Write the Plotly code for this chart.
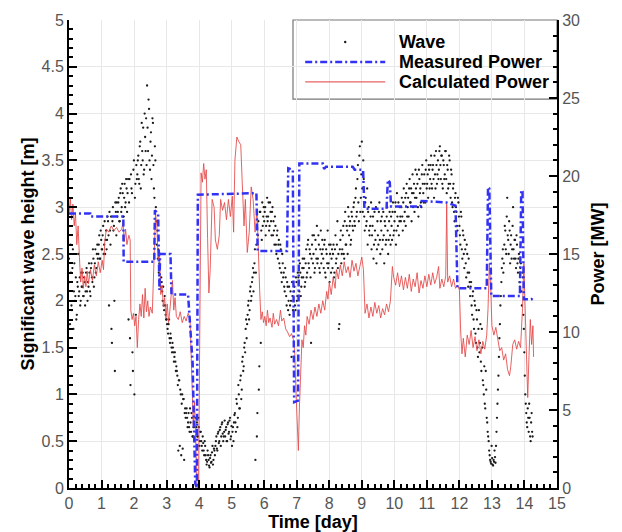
import plotly.graph_objects as go

# ---------------- data ----------------
# Significant wave height [m]; two interleaved sample sets, each every wave_dt days
wave_dt = 0.03
wave_h_a = [
    2.45, 1.75, 2.30, 1.90, 2.55, 2.10, 2.00, 2.25, 1.85, 2.15,
    2.05, 2.25, 2.00, 2.15, 2.30, 2.05, 2.20, 2.10, 2.35, 2.00,
    2.15, 2.30, 2.05, 2.40, 2.20, 2.45, 2.25, 2.55, 2.35, 2.60,
    2.50, 2.70, 2.45, 2.65, 2.55, 2.80, 2.60, 2.50, 2.75, 2.65,
    2.85, 1.95, 2.75, 2.90, 1.55, 3.00, 2.80, 1.25, 2.95, 3.05,
    2.95, 3.10, 2.85, 3.20, 3.00, 3.15, 2.90, 3.25, 3.05, 3.20,
    3.15, 1.80, 3.30, 1.10, 3.20, 1.45, 3.40, 1.00, 3.25, 3.45,
    3.35, 3.55, 3.25, 3.70, 3.45, 3.60, 3.85, 3.40, 3.75, 3.95,
    4.30, 3.60, 4.05, 3.40, 3.80, 3.55, 3.90, 3.20, 3.65, 3.00,
    2.60, 2.45, 2.30, 2.35, 2.15, 2.20, 2.00, 1.95, 2.05, 1.85,
    1.80, 1.70, 1.75, 1.60, 1.65, 1.50, 1.55, 1.45, 1.40, 1.35,
    1.30, 1.20, 0.40, 1.15, 1.05, 0.35, 1.00, 0.95, 0.30, 0.85,
    0.80, 0.75, 0.70, 0.65, 0.85, 0.60, 0.75, 0.55, 0.70, 0.65,
    0.60, 0.70, 0.55, 0.65, 0.50, 0.60, 0.45, 0.55, 0.40, 0.50,
    0.35, 0.25, 0.40, 0.30, 0.22, 0.35, 0.28, 0.45, 0.30, 0.40,
    0.45, 0.55, 0.40, 0.60, 0.50, 0.65, 0.55, 0.70, 0.50, 0.60,
    0.55, 0.65, 0.50, 0.70, 0.60, 0.75, 0.55, 0.45, 0.65, 0.70,
    0.80, 0.60, 0.90, 0.75, 1.00, 0.85, 1.20, 1.05, 1.40, 1.30,
    1.55, 1.70, 1.60, 1.85, 2.00, 1.90, 2.15, 2.05, 2.25, 2.10,
    2.40, 0.30, 2.60, 0.80, 2.85, 1.30, 2.95, 2.75, 3.05, 2.90,
    2.85, 3.00, 2.80, 3.10, 2.90, 2.75, 3.05, 2.85, 2.95, 2.70,
    2.75, 2.90, 2.60, 2.70, 2.45, 2.65, 2.35, 2.55, 2.20, 2.40,
    2.30, 2.10, 2.25, 1.95, 2.15, 2.00, 1.85, 2.10, 1.40, 2.05,
    2.00, 2.15, 1.90, 2.20, 2.05, 2.25, 2.10, 2.30, 2.15, 2.35,
    2.25, 2.45, 2.20, 2.55, 2.30, 2.65, 2.35, 2.50, 1.55, 2.60,
    2.40, 2.70, 2.35, 2.55, 2.80, 2.45, 2.60, 2.30, 2.75, 2.50,
    2.55, 2.35, 2.65, 2.25, 2.50, 2.75, 2.40, 2.20, 2.60, 2.45,
    2.35, 2.60, 2.30, 2.70, 2.45, 2.85, 2.50, 1.75, 2.65, 2.40,
    2.55, 2.80, 2.45, 2.95, 2.60, 2.75, 3.00, 2.70, 2.85, 2.65,
    2.90, 2.75, 3.05, 2.80, 3.20, 2.95, 3.45, 2.85, 3.65, 3.10,
    3.70, 2.95, 3.30, 2.75, 3.10, 2.85, 2.60, 3.00, 2.70, 2.90,
    2.55, 2.80, 2.45, 2.95, 2.65, 2.40, 2.85, 2.60, 3.05, 2.50,
    2.75, 2.55, 2.95, 2.40, 2.80, 2.65, 3.00, 2.50, 2.85, 2.70,
    2.90, 2.65, 3.05, 2.75, 2.95, 2.60, 3.15, 2.80, 2.70, 3.00,
    2.85, 3.10, 2.75, 3.20, 2.95, 2.80, 3.25, 3.00, 2.90, 3.30,
    3.05, 2.85, 3.35, 3.15, 2.95, 3.40, 3.10, 3.25, 2.90, 3.30,
    3.20, 3.00, 3.45, 3.15, 3.35, 3.05, 3.50, 3.25, 3.10, 3.40,
    3.30, 3.55, 3.20, 3.45, 3.10, 3.35, 3.60, 3.25, 3.50, 3.40,
    3.65, 3.30, 3.55, 3.20, 3.45, 3.35, 3.60, 3.15, 3.40, 3.25,
    3.50, 3.10, 3.35, 3.00, 3.25, 2.85, 3.15, 2.95, 2.75, 3.05,
    2.80, 2.60, 2.90, 2.45, 2.70, 2.35, 2.55, 2.25, 2.50, 2.15,
    2.30, 2.05, 2.20, 1.85, 2.10, 1.70, 1.95, 1.55, 1.80, 1.40,
    1.90, 1.55, 1.35, 1.70, 1.15, 1.00, 0.90, 1.25, 0.75, 0.60,
    0.50, 0.35, 0.28, 0.45, 0.25, 0.30, 0.40, 0.27, 0.60, 0.90,
    1.20, 1.60, 1.95, 2.20, 2.45, 2.30, 2.60, 2.75, 2.50, 3.10,
    2.65, 2.85, 2.40, 2.70, 2.55, 3.00, 2.45, 2.65, 2.35, 2.60,
    2.30, 2.50, 2.15, 2.40, 1.95, 2.25, 1.70, 1.20, 0.90, 0.70,
    0.85, 0.60, 0.75, 0.50, 0.80, 0.55,
]
wave_h_b = [
    2.20, 2.60, 1.95, 2.35, 1.70, 2.40, 2.05, 1.80, 2.20, 2.50,
    2.10, 1.95, 2.30, 2.15, 2.05, 2.25, 1.95, 2.30, 2.10, 2.20,
    2.40, 2.10, 2.35, 2.25, 2.55, 2.15, 2.40, 2.30, 2.50, 2.45,
    2.60, 2.45, 2.75, 2.55, 2.70, 2.50, 2.85, 2.65, 2.55, 2.90,
    2.70, 2.95, 2.60, 1.70, 2.85, 2.75, 2.00, 3.05, 2.70, 2.90,
    3.05, 2.85, 3.15, 2.95, 3.25, 2.90, 3.10, 3.00, 3.30, 2.95,
    3.30, 3.05, 1.60, 3.35, 3.15, 1.25, 3.50, 3.10, 1.85, 3.30,
    3.50, 3.30, 3.65, 3.20, 3.90, 3.50, 3.35, 4.00, 3.60, 3.45,
    3.85, 4.15, 3.50, 3.70, 3.30, 3.95, 3.45, 3.10, 3.50, 2.85,
    2.75, 2.55, 2.40, 2.50, 2.25, 2.10, 2.15, 1.90, 1.95, 1.80,
    1.75, 1.65, 1.80, 1.55, 1.60, 1.45, 1.50, 1.35, 1.45, 1.25,
    1.25, 1.10, 1.15, 0.45, 1.00, 0.90, 0.42, 0.95, 0.80, 0.75,
    0.85, 0.65, 0.80, 0.60, 0.70, 0.80, 0.55, 0.65, 0.50, 0.75,
    0.65, 0.55, 0.75, 0.45, 0.60, 0.50, 0.40, 0.48, 0.35, 0.45,
    0.30, 0.28, 0.35, 0.24, 0.32, 0.27, 0.38, 0.25, 0.42, 0.35,
    0.50, 0.42, 0.58, 0.48, 0.62, 0.45, 0.68, 0.58, 0.55, 0.72,
    0.62, 0.50, 0.68, 0.58, 0.72, 0.52, 0.66, 0.60, 0.50, 0.78,
    0.70, 0.95, 0.65, 1.10, 0.85, 1.15, 0.95, 1.35, 1.25, 1.50,
    1.45, 1.80, 1.75, 1.95, 1.80, 2.10, 2.00, 2.20, 2.35, 2.30,
    2.55, 2.30, 0.55, 2.70, 1.05, 2.95, 1.55, 2.65, 2.80, 3.00,
    2.95, 2.70, 2.90, 2.85, 3.05, 2.80, 2.95, 2.70, 3.00, 2.85,
    2.60, 2.80, 2.50, 2.75, 2.60, 2.40, 2.60, 2.30, 2.50, 2.25,
    2.15, 2.35, 2.05, 2.20, 1.90, 2.15, 1.95, 2.00, 2.20, 1.90,
    2.10, 1.95, 2.25, 2.00, 2.30, 2.20, 2.40, 2.05, 2.25, 2.45,
    2.35, 2.15, 2.40, 2.25, 2.60, 2.40, 2.55, 2.25, 2.45, 2.70,
    2.50, 2.30, 2.65, 2.45, 2.40, 2.70, 2.35, 2.55, 2.40, 2.65,
    2.45, 2.60, 2.30, 2.55, 2.40, 2.35, 2.60, 2.50, 2.30, 2.55,
    2.50, 2.25, 2.55, 2.40, 2.60, 2.35, 1.70, 2.55, 2.75, 2.50,
    2.70, 2.50, 2.85, 2.60, 2.80, 2.50, 2.90, 2.80, 2.60, 2.95,
    2.80, 3.00, 2.85, 3.10, 2.90, 3.30, 3.05, 3.55, 2.95, 3.35,
    3.20, 3.50, 2.90, 3.05, 2.80, 3.20, 2.95, 2.75, 2.80, 3.05,
    2.70, 2.90, 2.60, 2.75, 3.00, 2.55, 2.70, 2.95, 2.65, 2.85,
    2.90, 2.65, 2.70, 2.85, 2.60, 2.90, 2.75, 2.65, 2.95, 2.60,
    2.80, 2.95, 2.70, 2.85, 3.05, 2.75, 2.90, 3.05, 2.85, 2.90,
    3.00, 2.90, 3.05, 2.85, 3.10, 3.15, 2.90, 3.10, 3.20, 3.05,
    3.20, 3.15, 3.00, 3.25, 3.10, 3.20, 3.35, 3.00, 3.40, 3.15,
    3.05, 3.35, 3.25, 3.05, 3.25, 3.40, 3.20, 3.35, 3.45, 3.20,
    3.45, 3.25, 3.40, 3.30, 3.55, 3.20, 3.45, 3.35, 3.30, 3.60,
    3.45, 3.55, 3.25, 3.50, 3.30, 3.60, 3.30, 3.45, 3.20, 3.55,
    3.25, 3.40, 3.05, 3.20, 2.95, 3.10, 3.00, 2.80, 3.10, 2.90,
    2.70, 2.95, 2.55, 2.75, 2.50, 2.65, 2.40, 2.60, 2.30, 2.45,
    2.20, 2.15, 1.95, 2.05, 1.80, 2.00, 1.65, 1.90, 1.50, 1.70,
    1.45, 1.75, 1.25, 1.50, 1.10, 1.30, 0.85, 1.05, 0.70, 0.55,
    0.40, 0.30, 0.26, 0.32, 0.24, 0.28, 0.33, 0.45, 0.75, 1.05,
    1.40, 1.75, 2.05, 2.35, 2.55, 2.40, 2.80, 2.55, 2.90, 2.70,
    2.50, 2.75, 2.60, 2.45, 2.80, 2.55, 2.65, 2.45, 2.70, 2.40,
    2.45, 2.20, 2.35, 2.10, 2.30, 1.85, 1.45, 1.00, 0.80, 0.65,
    0.75, 0.90, 0.55, 0.70, 0.60,
]
wave_t = ([round(i * wave_dt, 3) for i in range(len(wave_h_a))]
          + [round(wave_dt / 2 + i * wave_dt, 3) for i in range(len(wave_h_b))])
wave_h = wave_h_a + wave_h_b

# Measured power [MW]
meas_t = [0.00, 0.65, 0.66, 1.67, 1.68, 2.62, 2.64, 2.74, 2.78, 2.80,
          3.12, 3.15, 3.66, 3.80, 3.88, 3.93, 3.96, 5.76, 5.80, 6.70,
          6.74, 6.88, 6.92, 7.04, 7.08, 7.80, 7.84, 7.90, 8.72, 8.78,
          9.04, 9.08, 9.76, 9.80, 9.86, 9.90, 10.80, 10.84, 11.60, 11.88,
          11.94, 12.84, 12.88, 12.92, 12.98, 13.86, 13.90, 13.94, 13.98, 14.22,
          14.27]
meas_p = [17.6, 17.6, 17.4, 17.4, 14.5, 14.5, 17.8, 17.6, 12.7, 15.0,
          15.0, 12.4, 12.4, 8.0, 0.3, 0.0, 18.8, 18.9, 15.2, 15.2,
          20.5, 20.4, 5.5, 5.6, 20.8, 20.8, 20.45, 20.6, 20.6, 20.4,
          20.4, 17.9, 17.9, 19.75, 19.6, 18.05, 18.05, 18.4, 18.3, 18.1,
          12.8, 12.8, 19.3, 19.2, 12.3, 12.3, 19.1, 19.0, 12.1, 12.1,
          12.3]

# Calculated power [MW]
calc_t = [0.00, 0.04, 0.08, 0.12, 0.16, 0.20, 0.24, 0.28, 0.32, 0.36,
          0.40, 0.44, 0.48, 0.52, 0.56, 0.60, 0.66, 0.72, 0.78, 0.84,
          0.90, 0.96, 1.02, 1.06, 1.10, 1.15, 1.22, 1.30, 1.38, 1.46,
          1.54, 1.62, 1.66, 1.70, 1.74, 1.78, 1.84, 1.88, 1.90, 1.94,
          1.98, 2.02, 2.06, 2.10, 2.14, 2.18, 2.22, 2.26, 2.30, 2.34,
          2.38, 2.42, 2.46, 2.50, 2.56, 2.62, 2.66, 2.70, 2.74, 2.78,
          2.82, 2.86, 2.90, 2.94, 2.98, 3.02, 3.06, 3.10, 3.14, 3.18,
          3.22, 3.26, 3.30, 3.36, 3.42, 3.48, 3.54, 3.60, 3.66, 3.72,
          3.78, 3.82, 3.86, 3.90, 3.94, 3.98, 4.03, 4.06, 4.10, 4.14,
          4.18, 4.22, 4.26, 4.30, 4.34, 4.40, 4.46, 4.50, 4.56, 4.62,
          4.66, 4.72, 4.78, 4.84, 4.90, 4.96, 5.02, 5.06, 5.10, 5.16,
          5.22, 5.28, 5.32, 5.38, 5.42, 5.48, 5.54, 5.60, 5.66, 5.72,
          5.78, 5.82, 5.86, 5.90, 5.94, 5.98, 6.02, 6.06, 6.10, 6.14,
          6.18, 6.24, 6.28, 6.32, 6.38, 6.44, 6.50, 6.54, 6.60, 6.66,
          6.72, 6.78, 6.84, 6.90, 6.94, 6.98, 7.02, 7.05, 7.08, 7.12,
          7.16, 7.20, 7.24, 7.28, 7.32, 7.38, 7.44, 7.50, 7.56, 7.62,
          7.68, 7.74, 7.80, 7.86, 7.92, 7.96, 8.00, 8.06, 8.12, 8.18,
          8.22, 8.28, 8.34, 8.40, 8.46, 8.52, 8.58, 8.64, 8.70, 8.76,
          8.82, 8.88, 8.94, 9.00, 9.05, 9.10, 9.16, 9.22, 9.28, 9.34,
          9.40, 9.46, 9.52, 9.58, 9.64, 9.70, 9.76, 9.82, 9.88, 9.94,
          9.98, 10.04, 10.10, 10.16, 10.22, 10.28, 10.34, 10.40, 10.46, 10.52,
          10.58, 10.64, 10.70, 10.76, 10.82, 10.88, 10.94, 11.00, 11.06, 11.12,
          11.18, 11.24, 11.30, 11.36, 11.40, 11.46, 11.52, 11.58, 11.61, 11.64,
          11.70, 11.76, 11.82, 11.88, 11.94, 12.00, 12.04, 12.08, 12.12, 12.18,
          12.24, 12.30, 12.36, 12.42, 12.48, 12.54, 12.60, 12.66, 12.72, 12.78,
          12.84, 12.88, 12.92, 12.96, 13.00, 13.06, 13.12, 13.18, 13.24, 13.30,
          13.36, 13.42, 13.48, 13.54, 13.58, 13.64, 13.70, 13.76, 13.82, 13.88,
          13.94, 13.98, 14.02, 14.06, 14.10, 14.14, 14.18, 14.22, 14.26, 14.28]
calc_p = [17.5, 18.6, 17.2, 18.2, 16.8, 17.6, 15.6, 16.8, 14.8, 13.2,
          14.1, 12.8, 13.6, 12.9, 13.9, 13.1, 14.0, 13.3, 14.3, 13.6,
          14.5, 13.8, 14.6, 14.0, 15.8, 16.6, 16.4, 16.8, 16.5, 16.7,
          16.4, 16.6, 17.0, 15.8, 16.6, 15.6, 16.2, 15.9, 11.4, 10.8,
          11.2, 10.4, 11.0, 9.0, 10.8, 11.8, 11.0, 12.4, 10.9, 12.8,
          11.3, 12.0, 11.0, 11.6, 11.2, 15.0, 17.6, 16.8, 14.6, 15.2,
          12.4, 13.0, 11.6, 12.2, 10.9, 11.8, 10.6, 11.4, 12.6, 13.3,
          11.4, 12.2, 11.0, 10.8, 11.3, 10.6, 11.0, 10.7, 11.2, 10.9,
          6.8, 4.0, 5.5, 2.5, 0.0, 0.0, 14.0, 20.2, 19.6, 20.8,
          19.8, 20.4, 16.0, 12.5, 14.0, 18.5, 18.0, 15.9, 15.3, 16.2,
          18.5, 17.8, 18.3, 17.2, 18.5, 17.4, 18.7, 16.4, 21.0, 22.5,
          22.2, 22.0, 19.8, 16.8, 18.5, 15.1, 16.4, 19.3, 18.5, 16.4,
          17.8, 14.8, 12.7, 10.8, 11.3, 10.6, 11.0, 10.4, 11.4, 10.6,
          10.9, 10.3, 11.2, 10.5, 10.8, 10.4, 11.4, 10.7, 10.9, 10.2,
          10.0, 9.7, 9.9, 9.5, 8.6, 6.0, 3.5, 2.4, 5.0, 8.0,
          9.5, 9.0, 10.4, 9.8, 11.0, 10.5, 11.4, 10.8, 11.6, 11.0,
          11.8, 11.2, 12.0, 11.4, 12.6, 12.1, 13.2, 12.4, 13.5, 12.8,
          14.0, 13.4, 14.3, 13.6, 14.5, 13.8, 14.2, 13.5, 14.6, 13.9,
          14.4, 13.6, 14.2, 14.8, 14.0, 11.2, 11.8, 10.9, 11.6, 11.0,
          11.9, 11.2, 11.7, 10.9, 11.5, 11.1, 11.8, 11.3, 12.0, 14.2,
          13.5, 13.0, 13.8, 12.9, 13.6, 12.7, 13.5, 12.8, 13.7, 12.6,
          13.4, 12.9, 13.8, 12.5, 13.3, 12.8, 13.6, 12.9, 13.7, 13.0,
          13.8, 13.1, 13.5, 14.2, 12.8, 13.4, 12.9, 13.6, 18.2, 13.2,
          13.6, 12.9, 13.4, 12.8, 13.0, 12.7, 10.0, 8.6, 9.6, 8.4,
          9.8, 9.2, 10.1, 9.0, 9.7, 8.8, 9.5, 8.6, 9.4, 8.9,
          9.8, 11.5, 14.4, 13.0, 10.4, 9.8, 10.3, 9.4, 8.8, 9.0,
          8.2, 8.6, 7.6, 7.2, 7.8, 9.2, 9.5, 8.9, 9.4, 9.0,
          11.5, 14.4, 11.0, 8.0, 5.8, 8.5, 10.8, 9.2, 10.4, 8.4]

x_ticks = list(range(0, 16))
legend_labels = ["Wave", "Measured Power", "Calculated Power"]

# ---------------- styles ----------------
FONT = "Liberation Sans, Arial, sans-serif"
RED = "rgba(228,70,70,0.85)"
BLUE = "#3232f2"
BLUE_DASH = "7px,3px,2px,3px"

fig = go.Figure()
fig.add_trace(go.Scatter(x=calc_t, y=calc_p, yaxis="y2", mode="lines",
                         line=dict(color=RED, width=1), name=legend_labels[2], showlegend=False))
fig.add_trace(go.Scatter(x=meas_t, y=meas_p, yaxis="y2", mode="lines",
                         line=dict(color=BLUE, width=2.5, dash=BLUE_DASH),
                         name=legend_labels[1], showlegend=False))
fig.add_trace(go.Scatter(x=wave_t, y=wave_h, mode="markers",
                         marker=dict(color="#1a1a1a", size=2.3),
                         name=legend_labels[0], showlegend=False))

axis_common = dict(
    ticks="inside", ticklen=8, tickwidth=2, tickcolor="black",
    showline=True, linewidth=2, linecolor="black", zeroline=False,
    automargin=False,
    tickfont=dict(family=FONT, size=16, color="#555"),
)
title_font = dict(family=FONT, size=18, color="black")

# legend box drawn inside the plot, upper right
lg_x_sym0, lg_x_sym1, lg_x_dot, lg_x_text = 0.484, 0.648, 0.566, 0.672
lg_rows = [0.953, 0.910, 0.868]
shapes = [
    dict(type="rect", xref="paper", yref="paper", x0=0.459, x1=1.0, y0=0.831, y1=1.0,
         line=dict(color="#777", width=1.2), fillcolor="white", layer="below"),
    dict(type="circle", xref="paper", yref="paper", xsizemode="pixel", ysizemode="pixel",
         xanchor=lg_x_dot, yanchor=lg_rows[0], x0=-1.2, x1=1.2, y0=-1.2, y1=1.2,
         fillcolor="#1a1a1a", line=dict(width=0)),
    dict(type="line", xref="paper", yref="paper", x0=lg_x_sym0, x1=lg_x_sym1,
         y0=lg_rows[1], y1=lg_rows[1], line=dict(color=BLUE, width=2.5, dash=BLUE_DASH)),
    dict(type="line", xref="paper", yref="paper", x0=lg_x_sym0, x1=lg_x_sym1,
         y0=lg_rows[2], y1=lg_rows[2], line=dict(color=RED, width=1.2)),
]
annotations = [
    dict(text="<b>%s</b>" % lab, xref="paper", yref="paper", x=lg_x_text, y=yy,
         xanchor="left", yanchor="middle", showarrow=False,
         font=dict(family=FONT, size=18, color="black"))
    for lab, yy in zip(legend_labels, lg_rows)
]

# page body adds an 8 px offset, so the figure is 8 px smaller and margins shifted
fig.update_layout(
    width=614, height=524,
    margin=dict(l=61, r=65, t=12, b=44),
    paper_bgcolor="white", plot_bgcolor="white",
    font=dict(family=FONT),
    showlegend=False,
    xaxis=dict(range=[0, 15], tickvals=x_ticks, showgrid=True, gridcolor="#e8e8e8",
               minor=dict(dtick=0.2, ticks="inside", ticklen=4, tickcolor="black", showgrid=False),
               title=dict(text="<b>Time [day]</b>", font=title_font, standoff=0),
               **axis_common),
    yaxis=dict(range=[0, 5], dtick=0.5, tick0=0, showgrid=True, gridcolor="#e8e8e8",
               minor=dict(dtick=0.1, ticks="inside", ticklen=4, tickcolor="black", showgrid=False),
               title=dict(text="<b>Significant wave height [m]</b>", font=title_font, standoff=2),
               **axis_common),
    yaxis2=dict(range=[0, 30], dtick=5, tick0=0, overlaying="y", side="right", showgrid=False,
                minor=dict(dtick=1, ticks="inside", ticklen=4, tickcolor="black", showgrid=False),
                title=dict(text="<b>Power [MW]</b>", font=title_font, standoff=12),
                **axis_common),
    shapes=shapes,
    annotations=annotations,
)

fig.write_html("out.html")
